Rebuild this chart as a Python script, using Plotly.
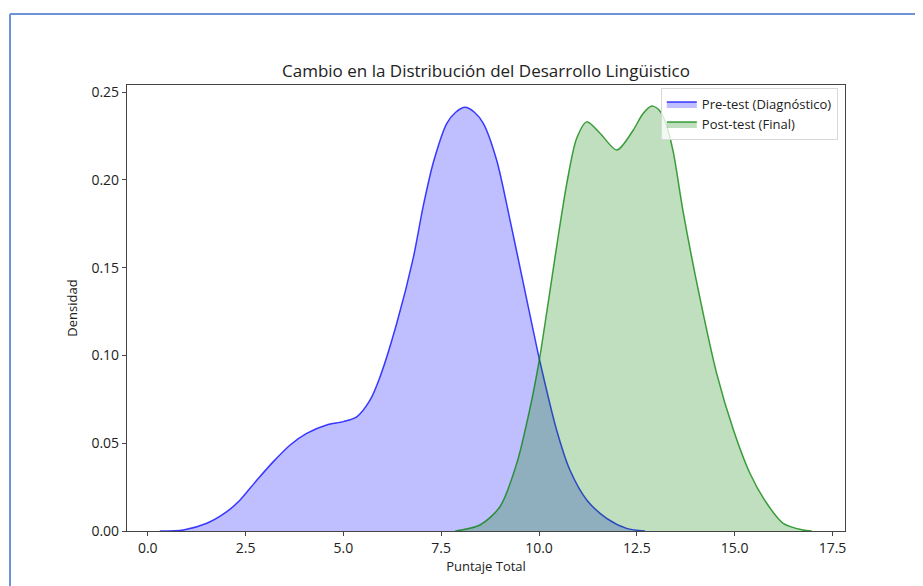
import plotly.graph_objects as go

# Pre-test KDE
pre_x = [0.31, 0.91, 1.51, 2.02, 2.36, 2.79, 3.21, 3.64, 4.06, 4.57, 5.0, 5.34, 5.68, 5.94,
         6.36, 6.79, 7.04, 7.30, 7.64, 7.87, 8.11, 8.35, 8.58, 8.92, 9.26, 9.60, 9.94, 10.01,
         10.45, 10.79, 11.22, 11.73, 12.24, 12.71]
pre_y = [0.0, 0.0006, 0.0044, 0.011, 0.0177, 0.029, 0.0395, 0.049, 0.0556, 0.0604, 0.0623,
         0.065, 0.0745, 0.088, 0.118, 0.156, 0.185, 0.210, 0.232, 0.2385, 0.2413, 0.2385,
         0.232, 0.211, 0.177, 0.141, 0.105, 0.0978, 0.0575, 0.0347, 0.0177, 0.0072, 0.0015, 0.0]

# Post-test KDE
post_x = [7.86, 8.49, 9.0, 9.43, 9.77, 10.01, 10.20, 10.45, 10.71, 10.96, 11.22, 11.56,
          11.99, 12.41, 12.65, 12.88, 13.08, 13.26, 13.43, 13.69, 14.11, 14.54, 14.97,
          15.39, 15.82, 16.24, 16.75, 16.97]
post_y = [0.0, 0.0034, 0.0138, 0.0385, 0.070, 0.0978, 0.125, 0.162, 0.198, 0.2235, 0.233,
          0.2265, 0.217, 0.2284, 0.2375, 0.242, 0.2395, 0.231, 0.216, 0.181, 0.133, 0.0898,
          0.0575, 0.0329, 0.0158, 0.0044, 0.0006, 0.0]

x_ticks = [0.0, 2.5, 5.0, 7.5, 10.0, 12.5, 15.0, 17.5]
y_ticks = [0.00, 0.05, 0.10, 0.15, 0.20, 0.25]

FONT = "Open Sans"

fig = go.Figure()
fig.add_trace(go.Scatter(
    x=pre_x, y=pre_y, mode="lines",
    line=dict(color="rgba(0,0,255,0.75)", width=1.5, shape="spline", smoothing=0.8),
    fill="tozeroy", fillcolor="rgba(0,0,255,0.25)", name="Pre-test (Diagnóstico)"))
fig.add_trace(go.Scatter(
    x=post_x, y=post_y, mode="lines",
    line=dict(color="rgba(0,128,0,0.75)", width=1.5, shape="spline", smoothing=0.8),
    fill="tozeroy", fillcolor="rgba(0,128,0,0.25)", name="Post-test (Final)"))

# page is offset by the 8px body margin; sizes are in figure pixels
OFF = 8
W, H = 915, 578
L = 127 - OFF
T = 85 - OFF
R = W - (845 - OFF)
B = H - (531 - OFF)
pw, ph = W - L - R, H - T - B

def px2paper_x(page_px):
    return (page_px - OFF - L) / pw

def px2paper_y(page_py):
    return (H - B - (page_py - OFF)) / ph

fig.update_layout(
    width=W, height=H,
    margin=dict(l=L, r=R, t=T, b=B),
    paper_bgcolor="white", plot_bgcolor="white",
    font=dict(family=FONT, color="#222", size=14),
    title=dict(text="Cambio en la Distribución del Desarrollo Lingüistico",
               x=0.5, xref="paper", xanchor="center", y=1 - (71 - OFF) / H, yanchor="middle",
               font=dict(size=17, color="#222")),
    showlegend=True,
    legend=dict(x=0.99, y=0.993, xanchor="right", yanchor="top",
                bgcolor="rgba(255,255,255,0.8)", bordercolor="#d8d8d8", borderwidth=1,
                font=dict(size=13, color="#222"), itemwidth=30, tracegroupgap=0),
    xaxis=dict(range=[-0.53, 17.82], tickvals=x_ticks, ticktext=[f"{v:.1f}" for v in x_ticks],
               showgrid=False, zeroline=False, showline=True, linecolor="#444", linewidth=1.2,
               mirror=True, ticks="outside", ticklen=4, tickcolor="#444",
               title=dict(text="Puntaje Total", font=dict(size=13), standoff=4)),
    yaxis=dict(range=[0, 0.254], tickvals=y_ticks, ticktext=[f"{v:.2f}" for v in y_ticks],
               showgrid=False, zeroline=False, showline=True, linecolor="#444", linewidth=1.2,
               mirror=True, ticks="outside", ticklen=4, tickcolor="#444",
               title=dict(text="Densidad", font=dict(size=13), standoff=10)),
    shapes=[
        dict(type="line", xref="paper", yref="paper",
             x0=px2paper_x(10), x1=px2paper_x(930), y0=px2paper_y(14), y1=px2paper_y(14),
             line=dict(color="#6b93d6", width=2)),
        dict(type="line", xref="paper", yref="paper",
             x0=px2paper_x(10), x1=px2paper_x(10), y0=px2paper_y(14), y1=px2paper_y(600),
             line=dict(color="#6b93d6", width=2)),
    ],
)

fig.write_html("out.html")
